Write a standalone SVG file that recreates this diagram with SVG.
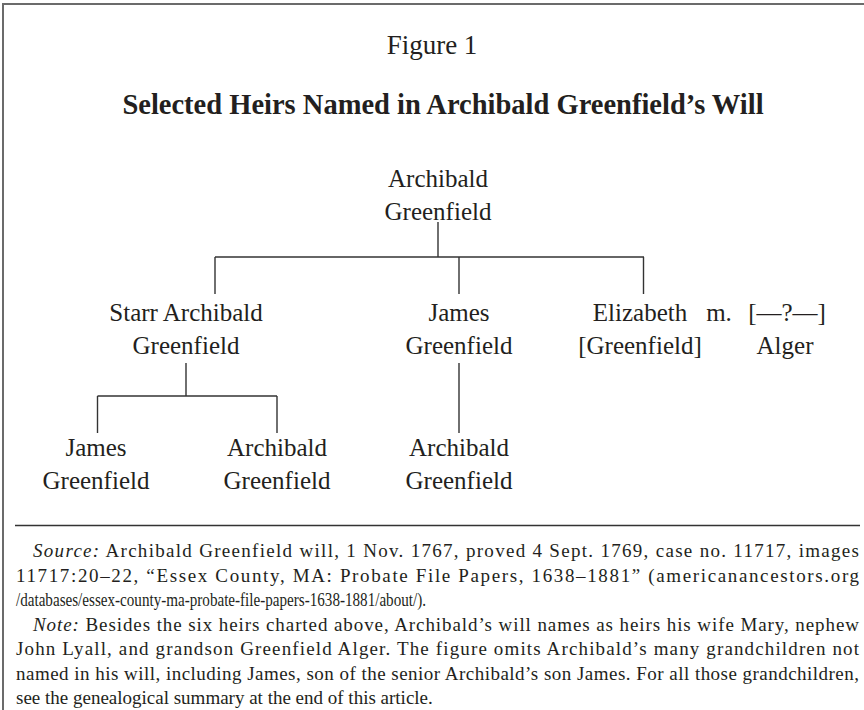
<svg xmlns="http://www.w3.org/2000/svg" width="864" height="710" viewBox="0 0 864 710">
<style>
.frame{stroke:#6b6b6b;stroke-width:2;fill:none}
.conn line{stroke:#333;stroke-width:1.4}
.lbl{font-family:"Liberation Serif","Times New Roman",serif;font-size:25px;fill:#231f20;text-anchor:middle}
.fig{font-family:"Liberation Serif","Times New Roman",serif;font-size:27px;fill:#231f20;text-anchor:middle}
.ttl{font-family:"Liberation Serif","Times New Roman",serif;font-size:28.5px;font-weight:bold;fill:#231f20;text-anchor:middle}
.fn{font-family:"Liberation Serif","Times New Roman",serif;font-size:19px;fill:#231f20}
.it{font-style:italic}
</style>
<rect width="864" height="710" fill="#fff"/>
<path class="frame" d="M3,710 V4 H864"/>
<text class="fig" x="432" y="54">Figure 1</text>
<text class="ttl" x="443" y="114">Selected Heirs Named in Archibald Greenfield’s Will</text>
<g id="connectors" class="conn">
<line x1="438" y1="222" x2="438" y2="257"/>
<line x1="215" y1="257" x2="644" y2="257"/>
<line x1="215" y1="257" x2="215" y2="294"/>
<line x1="459" y1="257" x2="459" y2="294"/>
<line x1="643.5" y1="257" x2="643.5" y2="294"/>
<line x1="186" y1="363" x2="186" y2="396"/>
<line x1="97.5" y1="396" x2="277" y2="396"/>
<line x1="97.5" y1="396" x2="97.5" y2="433"/>
<line x1="277" y1="396" x2="277" y2="433"/>
<line x1="459" y1="363" x2="459" y2="433"/>
</g>
<g id="n-archibald-sr"><text class="lbl" x="438" y="187">Archibald</text><text class="lbl" x="438" y="220">Greenfield</text></g>
<g id="n-starr"><text class="lbl" x="186" y="321">Starr Archibald</text><text class="lbl" x="186" y="354">Greenfield</text></g>
<g id="n-james"><text class="lbl" x="459" y="321">James</text><text class="lbl" x="459" y="354">Greenfield</text></g>
<g id="n-elizabeth"><text class="lbl" x="640" y="321">Elizabeth</text><text class="lbl" x="640" y="354">[Greenfield]</text></g>
<g id="n-m"><text class="lbl" x="719" y="321">m.</text></g>
<g id="n-alger"><text class="lbl" x="787" y="321">[—?—]</text><text class="lbl" x="785" y="354">Alger</text></g>
<g id="n-james-jr"><text class="lbl" x="96" y="456">James</text><text class="lbl" x="96" y="489">Greenfield</text></g>
<g id="n-archibald-starr"><text class="lbl" x="277" y="456">Archibald</text><text class="lbl" x="277" y="489">Greenfield</text></g>
<g id="n-archibald-james"><text class="lbl" x="459" y="456">Archibald</text><text class="lbl" x="459" y="489">Greenfield</text></g>
<line x1="15" y1="525.5" x2="860" y2="525.5" stroke="#333" stroke-width="1.4"/>
<text class="fn" x="33" y="557" textLength="826" lengthAdjust="spacing"><tspan class="it">Source:</tspan> Archibald Greenfield will, 1 Nov. 1767, proved 4 Sept. 1769, case no. 11717, images</text>
<text class="fn" x="16" y="581.5" textLength="843" lengthAdjust="spacing">11717:20–22, “Essex County, MA: Probate File Papers, 1638–1881” (americanancestors.org</text>
<text class="fn" x="16" y="606" textLength="410" lengthAdjust="spacingAndGlyphs">/databases/essex-county-ma-probate-file-papers-1638-1881/about/).</text>
<text class="fn" x="33" y="630.5" textLength="826" lengthAdjust="spacing"><tspan class="it">Note:</tspan> Besides the six heirs charted above, Archibald’s will names as heirs his wife Mary, nephew</text>
<text class="fn" x="16" y="655" textLength="843" lengthAdjust="spacing">John Lyall, and grandson Greenfield Alger. The figure omits Archibald’s many grandchildren not</text>
<text class="fn" x="16" y="679.5" textLength="843" lengthAdjust="spacing">named in his will, including James, son of the senior Archibald’s son James. For all those grandchildren,</text>
<text class="fn" x="16" y="704">see the genealogical summary at the end of this article.</text>
</svg>
